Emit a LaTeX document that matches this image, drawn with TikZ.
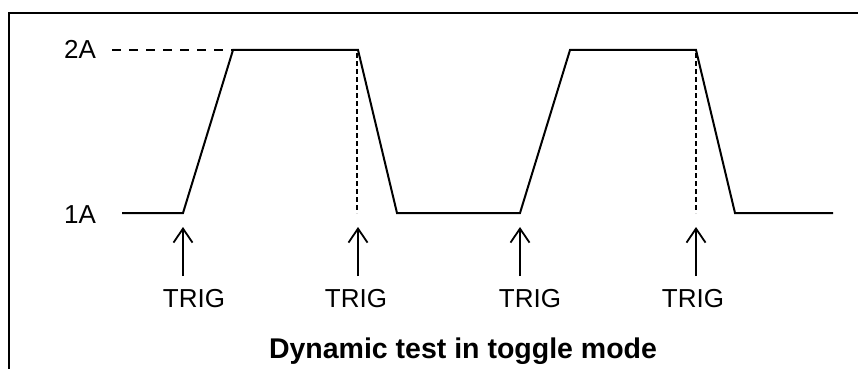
\documentclass[tikz,border=0pt]{standalone}
\usepackage{fontspec}
\setmainfont{Liberation Sans}
\usetikzlibrary{arrows.meta}
\begin{document}
\begin{tikzpicture}[x=1pt,y=-1pt,
  wave/.style={line width=2pt,line join=miter},
  frame/.style={line width=2pt},
  hdash/.style={line width=1.8pt,dash pattern=on 9pt off 8pt},
  vdash/.style={line width=1.6pt,dash pattern=on 5pt off 3pt},
  trigarrow/.style={line width=1.8pt,-{Straight Barb[length=14pt,width=19pt,line width=1.8pt]}},
  lbl/.style={font=\fontsize{26}{28}\selectfont,anchor=base,inner sep=0pt},
  ttl/.style={font=\fontsize{28.5}{30}\selectfont\bfseries,anchor=base,inner sep=0pt}]
\useasboundingbox (0,0) rectangle (858,369);
% frame (top and left)
\draw[frame] (858,13) -- (9,13) -- (9,369);
% level labels
\node[lbl] (l2a) at (80,59) {2A};
\node[lbl] (l1a) at (80,223) {1A};
% dashed 2A reference
\coordinate (d0) at (112,50);
\coordinate (r1) at (233,50);
\draw[hdash] (d0) -- (r1);
% waveform
\draw[wave] (122,213) -- (183,213) -- (233,50) -- (358,50) -- (397,213)
  -- (520,213) -- (570,50) -- (696,50) -- (735,213) -- (833,213);
% dashed verticals
\coordinate (v1t) at (357,53); \coordinate (v1b) at (357,213);
\coordinate (v2t) at (696,53); \coordinate (v2b) at (696,213);
\draw[vdash] (v1t) -- (v1b);
\draw[vdash] (v2t) -- (v2b);
% trigger arrows
\foreach \i/\x/\tx in {1/183/194, 2/358/356, 3/520/530, 4/696/693}{
  \coordinate (a\i b) at (\x,276);
  \coordinate (a\i t) at (\x,227);
  \draw[trigarrow] (a\i b) -- (a\i t);
  \node[lbl] (trig\i) at (\tx,307) {TRIG};
}
% title
\node[ttl] (title) at (463,358) {Dynamic test in toggle mode};
\end{tikzpicture}
\end{document}
